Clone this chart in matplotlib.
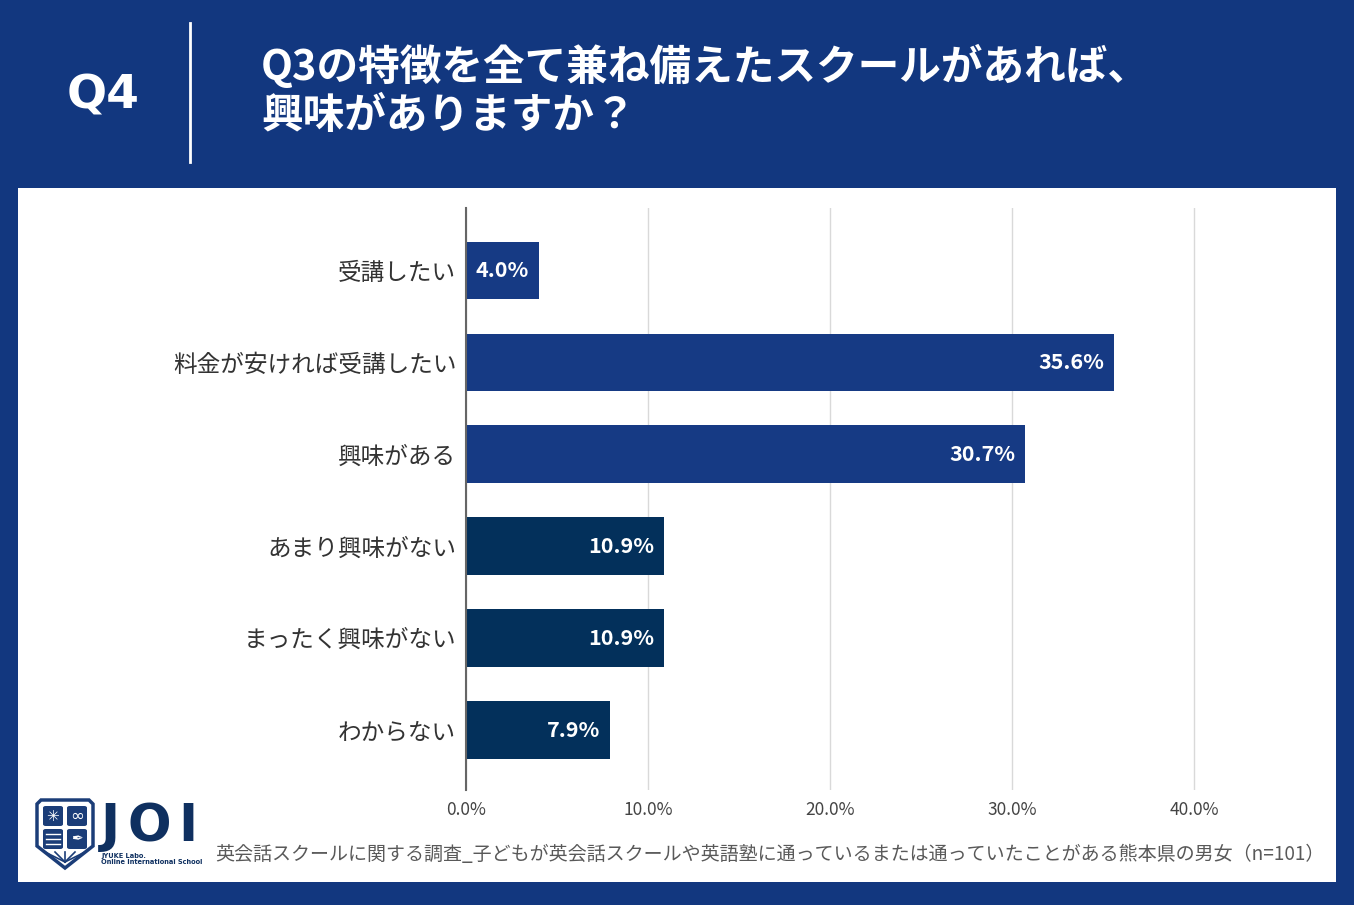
import matplotlib.pyplot as plt
from matplotlib.patches import Rectangle, Polygon, FancyBboxPatch

plt.rcParams['font.family'] = ['Noto Sans CJK JP', 'DejaVu Sans']

categories = ['受講したい', '料金が安ければ受講したい', '興味がある',
              'あまり興味がない', 'まったく興味がない', 'わからない']
values = [4.0, 35.6, 30.7, 10.9, 10.9, 7.9]
bar_colors = ['#163a84', '#163a84', '#163a84', '#03305b', '#03305b', '#03305b']
xticks = [0, 10, 20, 30, 40]

title_q = 'Q4'
title_lines = ['Q3の特徴を全て兼ね備えたスクールがあれば、', '興味がありますか？']
footnote = '英会話スクールに関する調査_子どもが英会話スクールや英語塾に通っているまたは通っていたことがある熊本県の男女（n=101）'

BG = '#12377f'
W, H = 1354, 905


def px(x, y):
    # pixel position (from top-left) -> figure fraction
    return x / W, 1 - y / H


fig = plt.figure(figsize=(W / 100, H / 100), dpi=100, facecolor=BG)

# white panel (behind the axes)
fig.patches.append(Rectangle(px(18, 882), 1318 / W, 694 / H,
                             transform=fig.transFigure, facecolor='white',
                             edgecolor='none', zorder=-1))

# header
fig.text(*px(103, 96), title_q, color='white', fontsize=34,
         fontweight='bold', ha='center', va='center', family=['DejaVu Sans'])
fig.add_artist(plt.Line2D([190 / W, 190 / W], [1 - 23 / H, 1 - 162 / H],
                          color='white', lw=2, transform=fig.transFigure))
fig.text(*px(261, 67), title_lines[0], color='white', fontsize=30,
         fontweight='bold', ha='left', va='center')
fig.text(*px(261, 116), title_lines[1], color='white', fontsize=30,
         fontweight='bold', ha='left', va='center')

# chart
ax = fig.add_axes([466 / W, 1 - 790 / H, 819 / W, 582 / H])
ax.set_facecolor('none')
ypos = list(range(len(categories)))
bars = ax.barh(ypos, values, height=0.63, color=bar_colors, zorder=3)
ax.set_xlim(0, 45)
ax.set_ylim(5.65, -0.68)
ax.set_yticks(ypos)
ax.set_yticklabels(categories, fontsize=17, color='#333333')
ax.set_xticks(xticks)
ax.set_xticklabels([f'{t:.1f}%' for t in xticks], fontsize=12.5, color='#444444')
ax.tick_params(axis='both', length=0)
ax.tick_params(axis='y', pad=7)
ax.tick_params(axis='x', pad=8)
for s in ['top', 'right', 'bottom']:
    ax.spines[s].set_visible(False)
ax.spines['left'].set_color('#666666')
ax.spines['left'].set_linewidth(1.5)
ax.spines['left'].set_zorder(4)
ax.grid(axis='x', color='#d9d9d9', lw=1, zorder=0)
ax.set_axisbelow(True)

for b, v in zip(bars, values):
    ax.annotate(f'{v:.1f}%', (v, b.get_y() + b.get_height() / 2),
                xytext=(-7, 0), textcoords='offset points', ha='right',
                va='center', color='white', fontsize=15.5, fontweight='bold',
                zorder=5)

# footnote
fig.text(*px(1325, 854), footnote, color='#595959', fontsize=13.7,
         ha='right', va='center')

# logo: shield crest
navy = '#1b3d78'
shield = Polygon([px(41, 800), px(89, 800), px(93, 804), px(93, 846),
                  px(65, 868), px(37, 846), px(37, 804)], closed=True,
                 transform=fig.transFigure, facecolor='white', edgecolor=navy,
                 lw=2.5, zorder=2)
fig.patches.append(shield)
for qx, qy in [(43, 806), (67, 806), (43, 829), (67, 829)]:
    fig.patches.append(FancyBboxPatch(px(qx, qy + 20), 20 / W, 20 / H,
                                      boxstyle='round,pad=0,rounding_size=0.002',
                                      transform=fig.transFigure,
                                      facecolor=navy, edgecolor='none', zorder=3))
for i in range(5):
    fig.add_artist(plt.Line2D([65 / W, (45 + i * 10) / W],
                              [1 - 862 / H, 1 - 852 / H], color=navy, lw=1.2,
                              transform=fig.transFigure, zorder=3))
for i in range(3):
    fig.add_artist(plt.Line2D([46 / W, 60 / W],
                              [1 - (834 + i * 5) / H, 1 - (834 + i * 5) / H],
                              color='white', lw=1, transform=fig.transFigure,
                              zorder=4))
fig.text(*px(53, 816), '✳', color='white', fontsize=11, ha='center',
         va='center', family=['DejaVu Sans'], zorder=4)
fig.text(*px(77, 816), '∞', color='white', fontsize=12, ha='center',
         va='center', family=['DejaVu Sans'], zorder=4)
fig.text(*px(77, 839), '✒', color='white', fontsize=10, ha='center',
         va='center', family=['DejaVu Sans'], zorder=4)

for ch, x in [('J', 101), ('O', 127), ('I', 178)]:
    fig.text(*px(x, 827), ch, color='#0f3060', fontsize=37,
             fontweight='bold', ha='left', va='center', family=['DejaVu Sans'])
fig.text(*px(101, 859), 'JYUKE Labo.\nOnline International School',
         color='#0f3060', fontsize=4.8, fontweight='bold', ha='left',
         va='center', family=['DejaVu Sans'], linespacing=1.1)

fig.savefig('out.png', dpi=100, facecolor=BG)
